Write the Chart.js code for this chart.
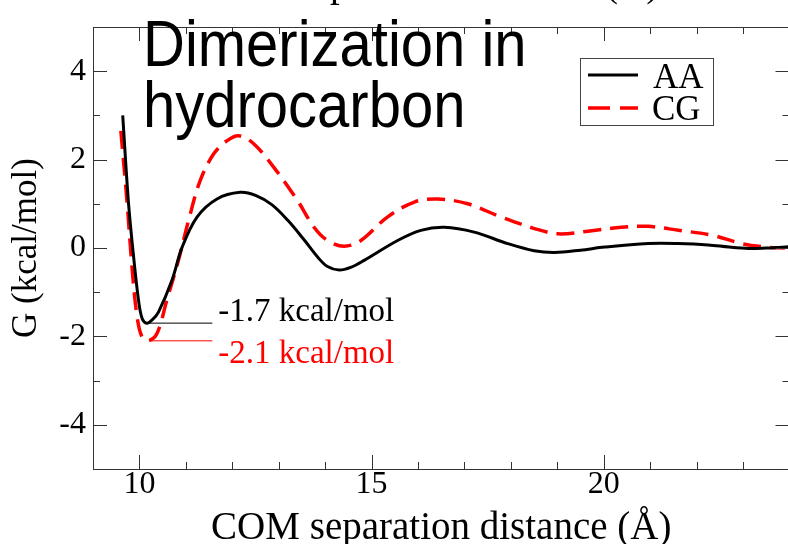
<!DOCTYPE html>
<html>
<head>
<meta charset="utf-8">
<script src="https://cdn.jsdelivr.net/npm/chart.js@4.4.1/dist/chart.umd.min.js"></script>
<style>
  html, body { margin: 0; padding: 0; overflow: hidden; background: #fff; }
  #wrap { position: absolute; left: 0; top: 0; width: 792px; height: 552px; }
</style>
</head>
<body>
<div id="wrap"><canvas id="c"></canvas></div>
<script>
// Free-energy profiles of dimerization in hydrocarbon: all-atom (AA) vs coarse-grained (CG)
const xMajorTicks = [10, 15, 20];
const yMajorTicks = [-4, -2, 0, 2, 4];

const aaDistance = [9.64, 9.76, 9.86, 9.98, 10.06, 10.16, 10.28, 10.41, 10.70, 10.92, 11.24, 11.67, 12.17, 12.50, 12.85, 13.20, 13.55, 13.85, 14.05, 14.30, 14.55, 14.84, 15.56, 16.06, 16.57, 17.21, 17.93, 18.50, 18.94, 19.50, 20.02, 20.96, 21.60, 22.25, 22.70, 23.12, 23.50, 23.91, 24.00];
const aaEnergy   = [3.00, 1.08, -0.05, -1.18, -1.60, -1.70, -1.62, -1.45, -0.73, 0.02, 0.70, 1.11, 1.26, 1.19, 0.98, 0.62, 0.18, -0.22, -0.42, -0.50, -0.44, -0.28, 0.17, 0.40, 0.47, 0.36, 0.10, -0.06, -0.10, -0.05, 0.02, 0.10, 0.10, 0.07, 0.02, -0.01, 0.00, 0.02, 0.04];

const cgDistance = [9.60, 9.73, 9.84, 9.94, 10.05, 10.19, 10.38, 10.59, 10.84, 11.06, 11.31, 11.60, 11.89, 12.14, 12.46, 12.89, 13.40, 13.76, 14.05, 14.41, 14.77, 15.34, 15.92, 16.42, 17.07, 17.79, 18.51, 19.01, 19.66, 20.38, 20.96, 21.61, 22.33, 22.97, 23.50, 23.90];
const cgEnergy   = [2.65, 1.08, -0.43, -1.48, -2.00, -2.10, -1.93, -1.18, -0.28, 0.63, 1.53, 2.13, 2.43, 2.54, 2.36, 1.83, 1.08, 0.47, 0.17, 0.04, 0.17, 0.70, 1.04, 1.11, 1.00, 0.70, 0.44, 0.32, 0.38, 0.47, 0.49, 0.40, 0.29, 0.10, 0.02, 0.00];

// Well-depth markers: value, leader-line start/end distance, label text
const wellDepths     = [-1.7, -2.1];
const wellLeaderFrom = [10.17, 10.23];
const wellLeaderTo   = [11.57, 11.57];
const wellLabels     = ['-1.7 kcal/mol', '-2.1 kcal/mol'];

const seriesNames  = ['AA', 'CG'];
const seriesColors = ['#000000', '#ff0000'];

const SERIF = '"Liberation Serif", "Times New Roman", serif';
const SANS  = '"Liberation Sans", Arial, sans-serif';
const DASH  = [18, 9];

const pts = (xs, ys) => xs.map((x, i) => ({ x, y: ys[i] }));

const datasets = [
  { label: seriesNames[0], data: pts(aaDistance, aaEnergy), borderColor: seriesColors[0],
    borderWidth: 3, pointRadius: 0, tension: 0.35, fill: false },
  { label: seriesNames[1], data: pts(cgDistance, cgEnergy), borderColor: seriesColors[1],
    borderWidth: 3.5, borderDash: DASH, pointRadius: 0, tension: 0.35, fill: false }
];
wellDepths.forEach((v, i) => {
  datasets.push({
    label: wellLabels[i],
    data: [{ x: wellLeaderFrom[i], y: v }, { x: wellLeaderTo[i], y: v }],
    borderColor: seriesColors[i], borderWidth: 1, pointRadius: 0, tension: 0, fill: false
  });
});

// Frame with inward major/minor ticks on all four sides, legend box and text overlays
const decorations = {
  id: 'decorations',
  afterDraw(chart) {
    const { ctx, chartArea: a, scales: { x, y } } = chart;
    ctx.save();
    ctx.strokeStyle = '#333';
    ctx.lineWidth = 1;
    ctx.beginPath();
    ctx.rect(Math.round(a.left) + 0.5, Math.round(a.top) + 0.5,
             Math.round(a.right - a.left), Math.round(a.bottom - a.top));
    ctx.stroke();

    const MAJ = 14, MIN = 7;
    ctx.beginPath();
    for (let v = Math.ceil(x.min); v <= x.max; v++) {
      const px = Math.round(x.getPixelForValue(v)) + 0.5;
      const len = xMajorTicks.includes(v) ? MAJ : MIN;
      ctx.moveTo(px, a.bottom); ctx.lineTo(px, a.bottom - len);
      ctx.moveTo(px, a.top); ctx.lineTo(px, a.top + len);
    }
    for (let v = Math.ceil(y.min); v <= y.max; v++) {
      const py = Math.round(y.getPixelForValue(v)) + 0.5;
      const len = yMajorTicks.includes(v) ? MAJ : MIN;
      ctx.moveTo(a.left, py); ctx.lineTo(a.left + len, py);
      ctx.moveTo(a.right, py); ctx.lineTo(a.right - len, py);
    }
    ctx.stroke();

    // secondary axis title above the frame
    ctx.fillStyle = '#000';
    ctx.font = '39px ' + SERIF;
    ctx.textAlign = 'center';
    ctx.textBaseline = 'alphabetic';
    ctx.fillText('COM separation distance (Å)', 429, -4);

    // well-depth labels
    ctx.textAlign = 'left';
    ctx.font = '33px ' + SERIF;
    ctx.fillStyle = seriesColors[0];
    ctx.fillText(wellLabels[0], x.getPixelForValue(wellLeaderTo[0]) + 6, y.getPixelForValue(wellDepths[0]) - 2);
    ctx.fillStyle = seriesColors[1];
    ctx.fillText(wellLabels[1], x.getPixelForValue(wellLeaderTo[1]) + 6, y.getPixelForValue(wellDepths[1]) + 22);

    // legend
    ctx.fillStyle = '#fff';
    ctx.fillRect(580, 58, 133, 67);
    ctx.strokeStyle = '#444';
    ctx.lineWidth = 1;
    ctx.strokeRect(580.5, 58.5, 133, 67);
    const rows = [75, 108];
    seriesNames.forEach((name, i) => {
      ctx.beginPath();
      ctx.strokeStyle = seriesColors[i];
      ctx.lineWidth = i === 0 ? 3 : 3.5;
      ctx.setLineDash(i === 0 ? [] : [22, 10]);
      ctx.moveTo(588, rows[i]); ctx.lineTo(638, rows[i]);
      ctx.stroke();
    });
    ctx.setLineDash([]);
    ctx.fillStyle = '#000';
    ctx.font = '35px ' + SERIF;
    ctx.fillText(seriesNames[0], 653, 88);
    ctx.fillText(seriesNames[1], 652, 120);

    // headline, slightly tall lettering
    ctx.font = '58px ' + SANS;
    const stretch = 1.13;
    [['Dimerization in', 66], ['hydrocarbon', 127]].forEach(([t, base]) => {
      ctx.save();
      ctx.translate(143, base);
      ctx.scale(1, stretch);
      ctx.fillText(t, 0, 0);
      ctx.restore();
    });
    ctx.restore();
  }
};

new Chart(document.getElementById('c'), {
  type: 'line',
  data: { datasets },
  plugins: [decorations],
  options: {
    responsive: true,
    maintainAspectRatio: false,
    animation: false,
    layout: { padding: { top: 27, right: 2.5, left: 0, bottom: 0 } },
    plugins: { legend: { display: false }, tooltip: { enabled: false } },
    scales: {
      x: {
        type: 'linear', min: 9, max: 24,
        grid: { display: false, drawTicks: false },
        border: { display: false },
        afterBuildTicks: s => { s.ticks = xMajorTicks.map(v => ({ value: v })); },
        afterFit: s => { s.height = 83; },
        ticks: { color: '#000', padding: 0, font: { family: SERIF, size: 32, lineHeight: 1 }, maxRotation: 0 },
        title: { display: true, text: 'COM separation distance (Å)', color: '#000',
                 font: { family: SERIF, size: 39 }, padding: { top: 0, bottom: 0 } }
      },
      y: {
        min: -5, max: 5,
        grid: { display: false, drawTicks: false },
        border: { display: false },
        afterBuildTicks: s => { s.ticks = yMajorTicks.map(v => ({ value: v })); },
        afterFit: s => { s.width = 93; },
        ticks: { color: '#000', padding: 7, font: { family: SERIF, size: 32 } },
        title: { display: true, text: 'G (kcal/mol)', color: '#000',
                 font: { family: SERIF, size: 35 }, padding: { top: 6, bottom: 0 } }
      }
    }
  }
});
</script>
</body>
</html>
